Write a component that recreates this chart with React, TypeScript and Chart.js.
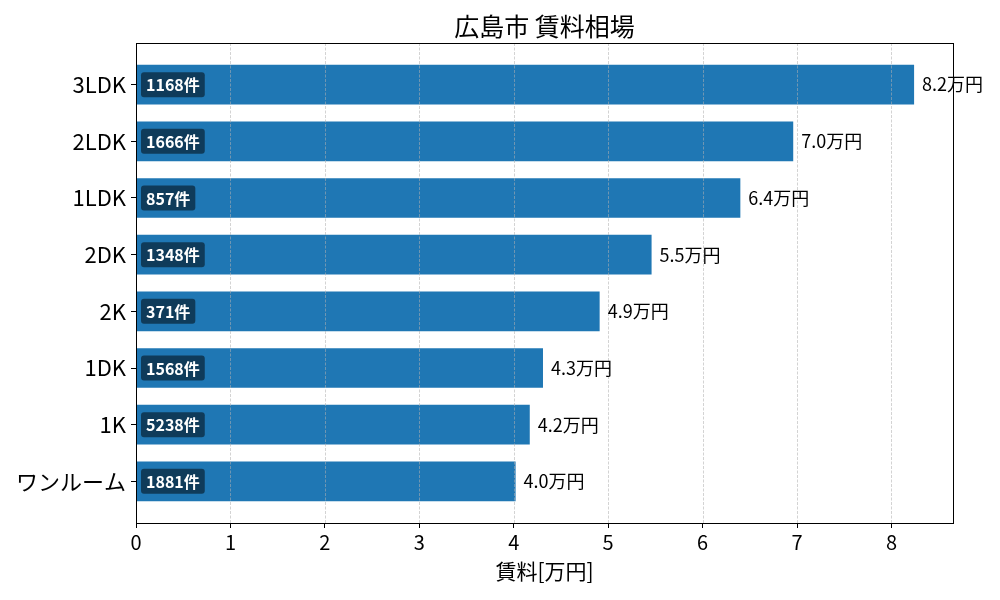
import React, { useEffect, useRef } from 'react';
import { Chart, registerables } from 'chart.js';

Chart.register(...registerables);

const categories = ['ワンルーム', '1K', '1DK', '2K', '2DK', '1LDK', '2LDK', '3LDK'];
const rentValues = [4.02, 4.17, 4.31, 4.91, 5.46, 6.4, 6.96, 8.24];
const listingCounts = [1881, 5238, 1568, 371, 1348, 857, 1666, 1168];
const xTicks = [0, 1, 2, 3, 4, 5, 6, 7, 8];
const titleText = '広島市 賃料相場';
const xAxisTitle = '賃料[万円]';
const valueUnit = '万円';
const countUnit = '件';

const FONT = '"Noto Sans CJK JP", "Noto Sans", sans-serif';

const overlayPlugin = {
  id: 'overlay',
  afterDatasetsDraw(chart: any) {
    const { ctx, chartArea, scales } = chart;
    const xs = scales.x;
    ctx.save();
    // dashed vertical grid drawn over bars
    ctx.strokeStyle = 'rgba(176,176,176,0.7)';
    ctx.lineWidth = 0.8;
    ctx.setLineDash([3, 1.5]);
    xTicks.forEach((t) => {
      if (t === 0) return;
      const px = Math.round(xs.getPixelForValue(t)) + 0.5;
      ctx.beginPath();
      ctx.moveTo(px, chartArea.top);
      ctx.lineTo(px, chartArea.bottom);
      ctx.stroke();
    });
    ctx.setLineDash([]);
    // frame
    ctx.strokeStyle = '#000';
    ctx.lineWidth = 1;
    const l = Math.round(chartArea.left) + 0.5;
    const t = Math.round(chartArea.top) + 0.5;
    const r = Math.round(chartArea.right) + 0.5;
    const b = Math.round(chartArea.bottom) + 0.5;
    ctx.strokeRect(l, t, r - l, b - t);

    // title centred over the plot area
    ctx.font = `25px ${FONT}`;
    ctx.fillStyle = '#000';
    ctx.textAlign = 'center';
    ctx.textBaseline = 'middle';
    ctx.fillText(titleText, (chartArea.left + chartArea.right) / 2, 26);

    const meta = chart.getDatasetMeta(0);
    meta.data.forEach((bar: any, i: number) => {
      const { x, y } = bar.getProps(['x', 'y'], true);
      ctx.textAlign = 'left';
      ctx.textBaseline = 'middle';
      ctx.font = `18px ${FONT}`;
      ctx.fillStyle = '#000';
      ctx.fillText(rentValues[i].toFixed(1) + valueUnit, x + 8, y);

      ctx.font = `bold 16px ${FONT}`;
      const txt = listingCounts[i] + countUnit;
      const w = ctx.measureText(txt).width;
      const bx = chartArea.left + 5;
      const bh = 25;
      const by = y - bh / 2;
      ctx.fillStyle = 'rgba(0,0,0,0.5)';
      ctx.beginPath();
      ctx.roundRect(bx, by, w + 10, bh, 3);
      ctx.fill();
      ctx.fillStyle = '#fff';
      ctx.fillText(txt, bx + 5, y + 0.5);
    });
    ctx.restore();
  },
};

export default function App() {
  const canvasRef = useRef<HTMLCanvasElement | null>(null);

  useEffect(() => {
    if (!canvasRef.current) return;
    const xMax = Math.max(...rentValues) * 1.05;
    const chart = new Chart(canvasRef.current, {
      type: 'bar',
      data: {
        datasets: [
          {
            data: rentValues.map((v, i) => ({ x: v, y: i })),
            backgroundColor: '#1f77b4',
            borderWidth: 0,
            barPercentage: 0.7,
            categoryPercentage: 1.0,
          },
        ],
      },
      options: {
        indexAxis: 'y',
        animation: false,
        responsive: true,
        maintainAspectRatio: false,
        devicePixelRatio: 1,
        layout: { padding: { left: 0, right: 47, top: 43, bottom: 0 } },
        plugins: {
          legend: { display: false },
          tooltip: { enabled: false },
          title: { display: false },
        },
        scales: {
          x: {
            type: 'linear',
            min: 0,
            max: xMax,
            offset: false,
            afterFit(scale: any) {
              scale.height = 77;
            },
            afterBuildTicks(scale: any) {
              scale.ticks = xTicks.map((v) => ({ value: v }));
            },
            ticks: {
              color: '#000',
              font: { family: FONT, size: 20 },
              padding: 2,
              maxRotation: 0,
              callback: (v: any) => String(v),
            },
            grid: {
              offset: false,
              drawOnChartArea: false,
              drawTicks: true,
              tickLength: 5,
              tickColor: '#000',
              tickWidth: 1,
            },
            border: { display: false },
            title: {
              display: true,
              text: xAxisTitle,
              color: '#000',
              font: { family: FONT, size: 21, lineHeight: 1.2 },
              padding: { top: 0, bottom: 16 },
            },
          },
          y: {
            type: 'linear',
            min: -0.735,
            max: 7.735,
            offset: false,
            afterFit(scale: any) {
              scale.width = 136;
            },
            afterBuildTicks(scale: any) {
              scale.ticks = categories.map((_, i) => ({ value: i }));
            },
            ticks: {
              color: '#000',
              font: { family: FONT, size: 22 },
              padding: 5,
              callback: (v: any) => categories[v as number] ?? '',
            },
            grid: {
              offset: false,
              drawOnChartArea: false,
              drawTicks: true,
              tickLength: 5,
              tickColor: '#000',
              tickWidth: 1,
            },
            border: { display: false },
          },
        },
      } as any,
      plugins: [overlayPlugin],
    });
    return () => chart.destroy();
  }, []);

  return (
    <div style={{ position: 'absolute', left: 0, top: 0, width: 1000, height: 600, background: '#fff' }}>
      <canvas ref={canvasRef} />
    </div>
  );
}
